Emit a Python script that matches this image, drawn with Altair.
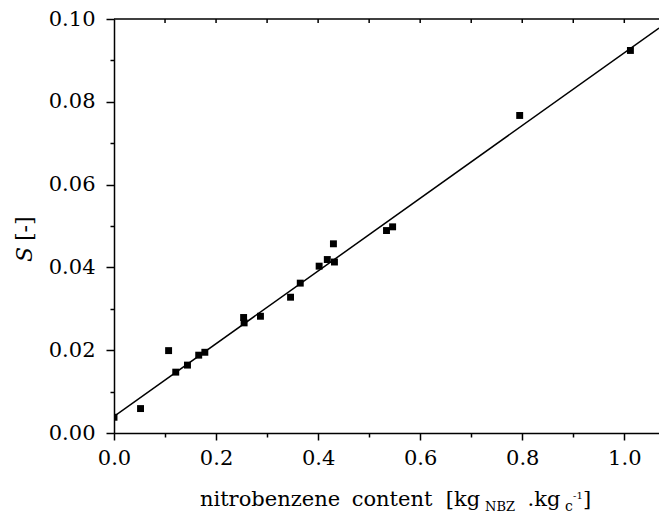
import altair as alt
import pandas as pd

# Measured data (nitrobenzene content vs S)
x_vals = [0.0, 0.052, 0.107, 0.121, 0.144, 0.166, 0.178, 0.254, 0.255, 0.287,
          0.346, 0.365, 0.402, 0.418, 0.430, 0.432, 0.534, 0.546, 0.795, 1.012]
y_vals = [0.0038, 0.0059, 0.0199, 0.0147, 0.0164, 0.0188, 0.0195, 0.0279, 0.0266, 0.0282,
          0.0328, 0.0362, 0.0403, 0.0419, 0.0457, 0.0413, 0.0489, 0.0498, 0.0767, 0.0924]

# Linear fit line end points
fit_x = [0.0, 1.068]
fit_y = [0.0040, 0.0978]

x_ticks = [0.0, 0.1, 0.2, 0.3, 0.4, 0.5, 0.6, 0.7, 0.8, 0.9, 1.0]
y_ticks = [0.0, 0.01, 0.02, 0.03, 0.04, 0.05, 0.06, 0.07, 0.08, 0.09, 0.10]
top_ticks = [0.1, 0.2, 0.3, 0.4, 0.5, 0.6, 0.7, 0.8, 0.9, 1.0]

W, H = 545, 414
FONT = "DejaVu Serif"

pts = pd.DataFrame({"x": x_vals, "y": y_vals})
fit = pd.DataFrame({"x": fit_x, "y": fit_y})
tops = pd.DataFrame({"x": top_ticks})
one = pd.DataFrame({"d": [0]})

xscale = alt.Scale(domain=[0, 1.068], nice=False, zero=False)
yscale = alt.Scale(domain=[0, 0.10], nice=False, zero=False)

xaxis = alt.Axis(
    values=x_ticks, title=None,
    labelExpr="round(datum.value*10) % 2 == 0 ? format(datum.value, '.1f') : ''",
    tickSize={"condition": {"test": "round(datum.value*10) % 2 == 0", "value": 7}, "value": 4},
    labelFont=FONT, labelFontSize=21, labelColor="black", labelPadding=7,
    labelFlush=False, labelOverlap=False, grid=False,
    domainColor="black", domainWidth=1.5, tickColor="black", tickWidth=1.5,
)
yaxis = alt.Axis(
    values=y_ticks, title=None,
    labelExpr="round(datum.value*100) % 2 == 0 ? format(datum.value, '.2f') : ''",
    tickSize={"condition": {"test": "round(datum.value*100) % 2 == 0", "value": 8}, "value": 4},
    labelFont=FONT, labelFontSize=21, labelColor="black", labelPadding=11,
    labelFlush=False, labelOverlap=False, grid=False,
    domainColor="black", domainWidth=1.5, tickColor="black", tickWidth=1.5,
)

points = alt.Chart(pts).mark_square(size=48, color="black", opacity=1, clip=True).encode(
    x=alt.X("x:Q", scale=xscale, axis=xaxis),
    y=alt.Y("y:Q", scale=yscale, axis=yaxis),
)

line = alt.Chart(fit).mark_line(color="black", strokeWidth=1.5, clip=True).encode(
    x=alt.X("x:Q", scale=xscale),
    y=alt.Y("y:Q", scale=yscale),
)

top_spine = alt.Chart(one).mark_rule(color="black", strokeWidth=1.5).encode(
    x=alt.value(0), x2=alt.value(W), y=alt.value(0)
)

top_tick_marks = alt.Chart(tops).mark_rule(color="black", strokeWidth=1.5).encode(
    x=alt.X("x:Q", scale=xscale),
    y=alt.value(0), y2=alt.value(4),
)

def txt(text, x, y, size, align="left", style="normal", angle=0):
    return alt.Chart(one).mark_text(
        text=text, font=FONT, fontSize=size, color="black", align=align,
        baseline="alphabetic", fontStyle=style, angle=angle,
    ).encode(x=alt.value(x), y=alt.value(y))

titles = [
    txt("nitrobenzene", 156, 487, 21, align="center"),
    txt("content", 278, 487, 21, align="center"),
    txt("[kg", 349, 487, 21, align="center"),
    txt("NBZ", 371, 492, 13),
    txt(".kg", 430, 487, 21, align="center"),
    txt("c", 451, 492, 14),
    txt("-1", 459, 480, 10),
    txt("]", 469, 487, 21),
    txt("S", -82, 243, 22, style="italic", angle=270),
    txt("[-]", -82, 222, 22, angle=270),
]

chart = alt.layer(line, points, top_spine, top_tick_marks, *titles).properties(
    width=W, height=H,
    padding={"left": 106, "top": 11, "right": 0, "bottom": 82},
    autosize=alt.AutoSizeParams(type="none"),
).configure_view(stroke=None)

chart.save("out.html", embed_options={"renderer": "svg", "actions": False})
